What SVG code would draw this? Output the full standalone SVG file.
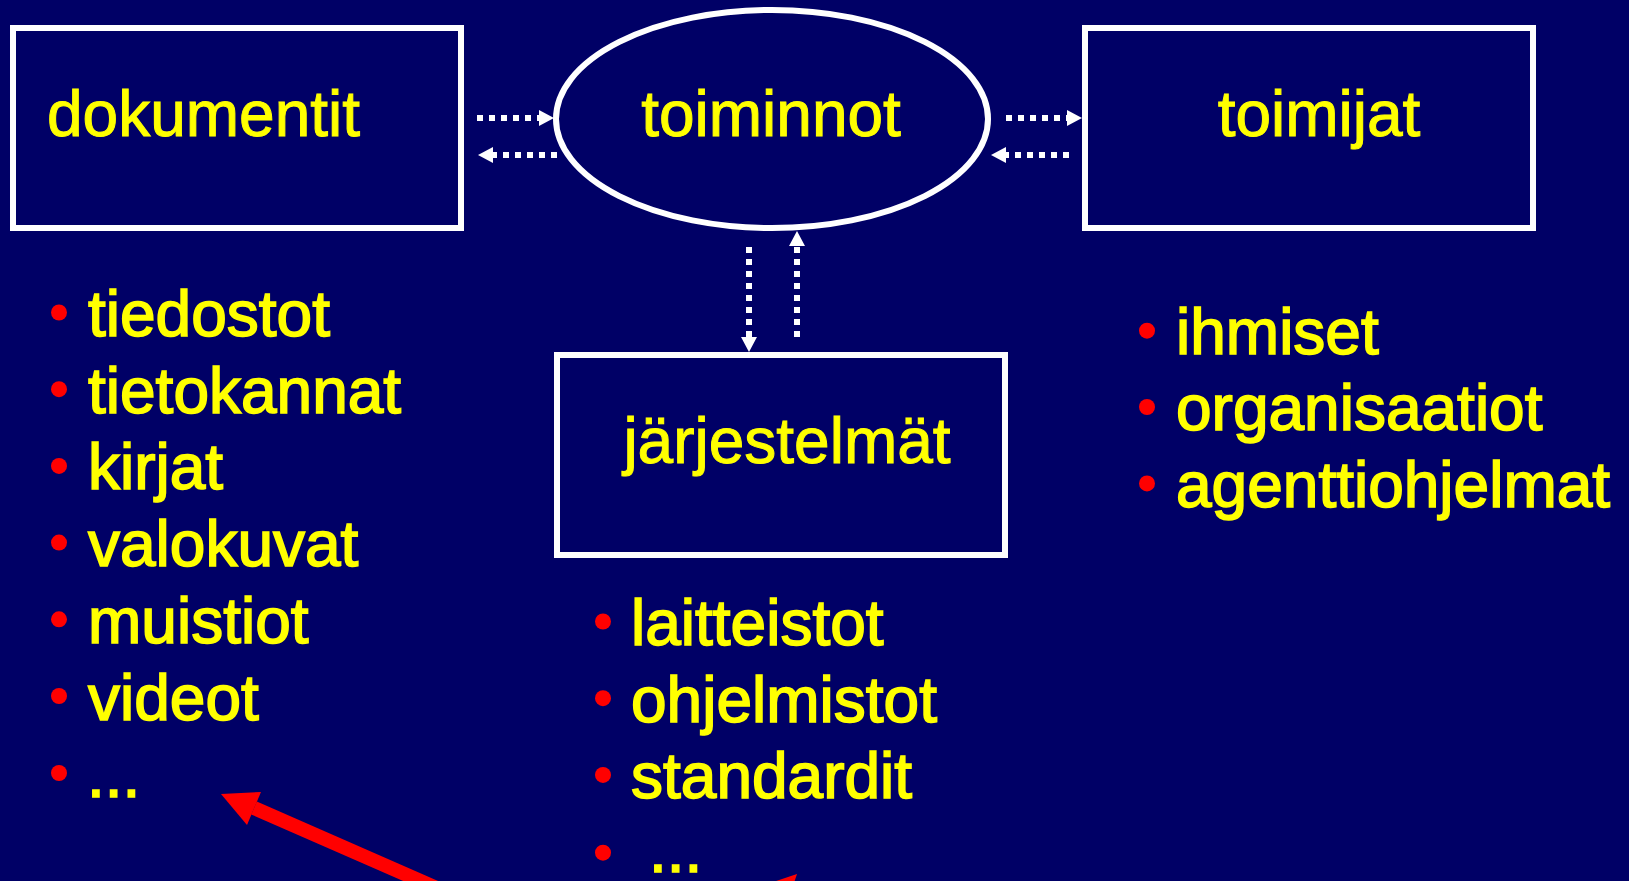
<svg xmlns="http://www.w3.org/2000/svg" width="1629" height="881" viewBox="0 0 1629 881">
  <defs>
    <style>
      .box { fill: #000066; stroke: #ffffff; stroke-width: 6; }
      .title { font-family: "Liberation Sans", Arial, sans-serif; font-size: 64px; fill: #ffff00; stroke: #ffff00; stroke-width: 1; }
      .item { font-family: "Liberation Sans", Arial, sans-serif; font-size: 64px; fill: #ffff00; stroke: #ffff00; stroke-width: 1.6; }
      .dot { fill: #ff0000; }
      .dash { stroke: #ffffff; stroke-width: 6; stroke-dasharray: 6 6; fill: none; }
      .red { stroke: #ff0000; stroke-width: 14; fill: none; }
      .redhead { fill: #ff0000; }
    </style>
    <marker id="wh" markerUnits="userSpaceOnUse" markerWidth="16" markerHeight="16" refX="0" refY="8" orient="auto">
      <path d="M0,0 L15,8 L0,16 z" fill="#ffffff"/>
    </marker>
  </defs>

  <rect x="0" y="0" width="1629" height="881" fill="#000066"/>

  <g id="node-dokumentit">
    <rect class="box" x="13" y="28" width="448" height="200"/>
    <text class="title" x="47" y="136">dokumentit</text>
  </g>

  <g id="node-toiminnot">
    <ellipse class="box" cx="772" cy="119" rx="216" ry="109"/>
    <text class="title" x="771" y="136" text-anchor="middle">toiminnot</text>
  </g>

  <g id="node-toimijat">
    <rect class="box" x="1085" y="28" width="448" height="200"/>
    <text class="title" x="1319" y="136" text-anchor="middle">toimijat</text>
  </g>

  <g id="node-jarjestelmat">
    <rect class="box" x="557" y="355" width="448" height="200"/>
    <text class="title" x="787" y="463" text-anchor="middle">järjestelmät</text>
  </g>

  <g id="connectors">
    <line class="dash" x1="477" y1="118" x2="539" y2="118" marker-end="url(#wh)"/>
    <line class="dash" x1="557" y1="155" x2="493" y2="155" marker-end="url(#wh)"/>
    <line class="dash" x1="1006" y1="118" x2="1067" y2="118" marker-end="url(#wh)"/>
    <line class="dash" x1="1069" y1="155" x2="1006" y2="155" marker-end="url(#wh)"/>
    <line class="dash" x1="749" y1="247" x2="749" y2="337" marker-end="url(#wh)"/>
    <line class="dash" x1="797" y1="337" x2="797" y2="246" marker-end="url(#wh)"/>
  </g>

  <g id="list-dokumentit">
    <circle class="dot" cx="59" cy="312.5" r="8"/>
    <text class="item" x="88" y="336">tiedostot</text>
    <circle class="dot" cx="59" cy="389.2" r="8"/>
    <text class="item" x="88" y="412.7">tietokannat</text>
    <circle class="dot" cx="59" cy="465.9" r="8"/>
    <text class="item" x="88" y="489.4">kirjat</text>
    <circle class="dot" cx="59" cy="542.6" r="8"/>
    <text class="item" x="88" y="566.1">valokuvat</text>
    <circle class="dot" cx="59" cy="619.3" r="8"/>
    <text class="item" x="88" y="642.8">muistiot</text>
    <circle class="dot" cx="59" cy="696" r="8"/>
    <text class="item" x="88" y="719.5">videot</text>
    <circle class="dot" cx="59" cy="773" r="8"/>
    <text class="item" x="87" y="796.5">...</text>
  </g>

  <g id="list-jarjestelmat">
    <circle class="dot" cx="603" cy="621.5" r="8"/>
    <text class="item" x="631" y="645">laitteistot</text>
    <circle class="dot" cx="603" cy="698.2" r="8"/>
    <text class="item" x="631" y="721.7">ohjelmistot</text>
    <circle class="dot" cx="603" cy="774.9" r="8"/>
    <text class="item" x="631" y="798.4">standardit</text>
    <circle class="dot" cx="603" cy="852.7" r="8"/>
    <text class="item" x="649" y="872">...</text>
  </g>

  <g id="list-toimijat">
    <circle class="dot" cx="1147" cy="330.7" r="8"/>
    <text class="item" x="1176" y="354">ihmiset</text>
    <circle class="dot" cx="1147" cy="407" r="8"/>
    <text class="item" x="1176" y="430.4">organisaatiot</text>
    <circle class="dot" cx="1147" cy="483.4" r="8"/>
    <text class="item" x="1176" y="506.8">agenttiohjelmat</text>
  </g>

  <g id="red-arrows">
    <line class="red" x1="254" y1="808" x2="480" y2="907"/>
    <polygon class="redhead" points="221,794 261,792 247,825"/>
    <polygon class="redhead" points="797,874 758.8,886.8 784.2,912.2"/>
  </g>
</svg>
